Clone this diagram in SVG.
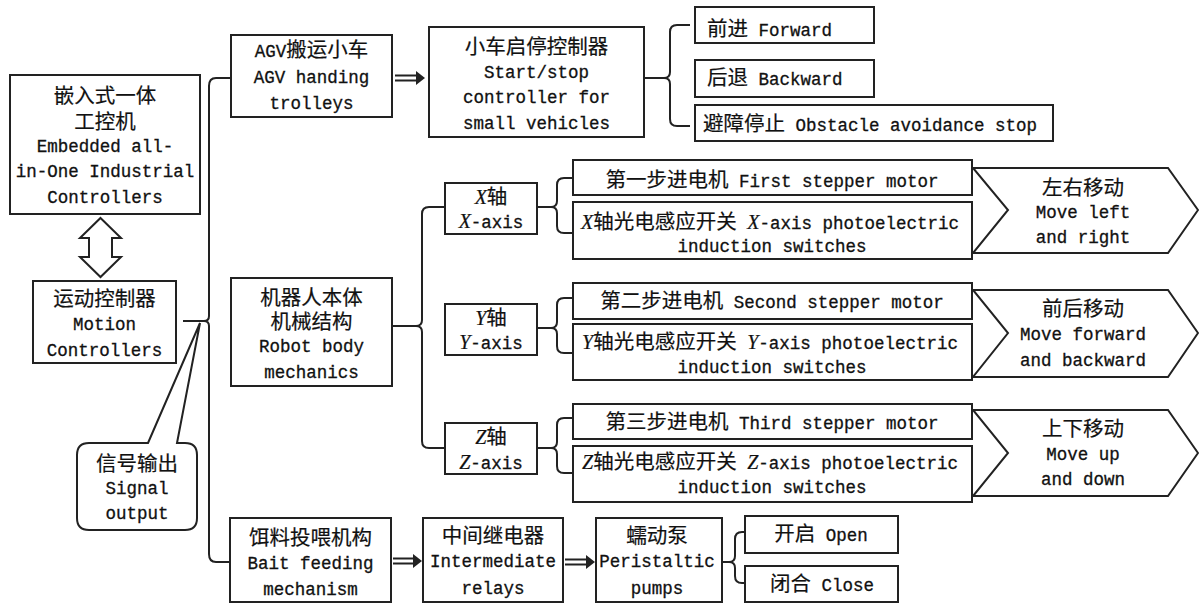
<svg xmlns="http://www.w3.org/2000/svg" width="1199" height="604" viewBox="0 0 1199 604">
<style>
.box{fill:#fff;stroke:#222;stroke-width:2}
.ln{fill:none;stroke:#222;stroke-width:2}
text{font-family:"Liberation Mono","Noto Sans CJK SC",monospace;font-size:17.5px;fill:#111;stroke:#111;stroke-width:0.3px;text-anchor:middle}
.s{text-anchor:start}
.c{font-size:20.5px;stroke-width:0.2px}
.i{font-family:"Liberation Serif",serif;font-style:italic;font-size:20px;stroke-width:0.2px}
</style>
<rect width="1199" height="604" fill="#fff"/>
<g id="connectors">
<path class="ln" d="M231,78 L216,78 Q209,78 209,86 L209,316 Q209,321 204,321 M204,321 Q209,321 209,326 L209,554 Q209,562 216,562 L230,562"/>
<path class="ln" d="M183,321 L204,321"/>
<path class="ln" d="M690,25 L677,25 Q670,25 670,32 L670,72 Q670,78 664,78 L644,78 M664,78 Q670,78 670,84 L670,119 Q670,126 677,126 L690,126"/>
<path class="ln" d="M445,207 L429,207 Q422,207 422,214 L422,320 Q422,326 416,326 L393,326 M416,326 Q422,326 422,332 L422,441 Q422,448 429,448 L445,448"/>
<path class="ln" d="M573,178 L564,178 Q557,178 557,185 L557,201 Q557,207 551,207 L537,207 M551,207 Q557,207 557,213 L557,226 Q557,233 564,233 L573,233"/>
<path class="ln" d="M573,298 L564,298 Q557,298 557,305 L557,322 Q557,328 551,328 L537,328 M551,328 Q557,328 557,334 L557,346 Q557,353 564,353 L573,353"/>
<path class="ln" d="M573,418 L564,418 Q557,418 557,425 L557,442 Q557,448 551,448 L537,448 M551,448 Q557,448 557,454 L557,466 Q557,473 564,473 L573,473"/>
<path class="ln" d="M745,532 L742,532 Q735,532 735,539 L735,556 Q735,562 729,562 L722,562 M729,562 Q735,562 735,568 L735,576 Q735,583 742,583 L745,583"/>
<g id="dbl1"><path class="ln" d="M395,75.5 H419 M395,80.5 H419"/><path d="M416,71 L425,78 L416,85 Z" fill="#222"/></g>
<g id="dbl2"><path class="ln" d="M393,558.5 H416 M393,563.5 H416"/><path d="M413,554 L422,561 L413,568 Z" fill="#222"/></g>
<g id="dbl3"><path class="ln" d="M565,559.5 H589 M565,564.5 H589"/><path d="M586,555 L595,562 L586,569 Z" fill="#222"/></g>
<path id="bidir" class="ln" d="M100.5,218 L121,238 L112,238 L112,257 L121,257 L100.5,277 L80,257 L89,257 L89,238 L80,238 Z"/>
</g>
<g id="embedded">
<rect class="box" x="10" y="75" width="190" height="139"/>
<text x="105" y="103" class="c">嵌入式一体</text>
<text x="105" y="129" class="c">工控机</text>
<text x="105" y="152">Embedded all-</text>
<text x="105" y="177">in-One Industrial</text>
<text x="105" y="203">Controllers</text>
</g>
<g id="motion">
<rect class="box" x="33" y="281" width="143" height="82"/>
<text x="104.5" y="306" class="c">运动控制器</text>
<text x="104.5" y="330">Motion</text>
<text x="104.5" y="356">Controllers</text>
</g>
<g id="signal">
<path class="ln" style="fill:#fff" d="M148,443 L200,323 L177,443 L185,443 Q197,443 197,455 L197,518 Q197,530 185,530 L89,530 Q77,530 77,518 L77,455 Q77,443 89,443 Z"/>
<text x="137" y="471" class="c">信号输出</text>
<text x="137" y="494">Signal</text>
<text x="137" y="519">output</text>
</g>
<g id="agv">
<rect class="box" x="231" y="35" width="161" height="82"/>
<text x="311.5" y="57">AGV<tspan class="c">搬运小车</tspan></text>
<text x="311.5" y="83">AGV handing</text>
<text x="311.5" y="109">trolleys</text>
</g>
<g id="robot">
<rect class="box" x="231" y="278" width="161" height="108"/>
<text x="311.5" y="305" class="c">机器人本体</text>
<text x="311.5" y="329" class="c">机械结构</text>
<text x="311.5" y="352">Robot body</text>
<text x="311.5" y="378">mechanics</text>
</g>
<g id="bait">
<rect class="box" x="230" y="518" width="161" height="84"/>
<text x="310.5" y="545" class="c">饵料投喂机构</text>
<text x="310.5" y="569">Bait feeding</text>
<text x="310.5" y="595">mechanism</text>
</g>
<g id="startstop">
<rect class="box" x="429" y="27" width="215" height="110"/>
<text x="536.5" y="54" class="c">小车启停控制器</text>
<text x="536.5" y="78">Start/stop</text>
<text x="536.5" y="103">controller for</text>
<text x="536.5" y="129">small vehicles</text>
</g>
<g id="forward">
<rect class="box" x="695" y="7" width="179" height="36"/>
<text x="707" y="36" class="s"><tspan class="c">前进</tspan> Forward</text>
</g>
<g id="backward">
<rect class="box" x="695" y="60" width="179" height="37"/>
<text x="707" y="85" class="s"><tspan class="c">后退</tspan> Backward</text>
</g>
<g id="obstacle">
<rect class="box" x="695" y="105" width="358" height="36"/>
<text x="703" y="131" class="s"><tspan class="c">避障停止</tspan> Obstacle avoidance stop</text>
</g>
<g id="xaxis">
<rect class="box" x="445" y="183" width="92" height="51"/>
<text x="491" y="204"><tspan class="i">X</tspan><tspan class="c">轴</tspan></text>
<text x="491" y="228"><tspan class="i">X</tspan>-axis</text>
</g>
<g id="yaxis">
<rect class="box" x="445" y="304" width="92" height="51"/>
<text x="491" y="325"><tspan class="i">Y</tspan><tspan class="c">轴</tspan></text>
<text x="491" y="349"><tspan class="i">Y</tspan>-axis</text>
</g>
<g id="zaxis">
<rect class="box" x="445" y="423" width="92" height="51"/>
<text x="491" y="444"><tspan class="i">Z</tspan><tspan class="c">轴</tspan></text>
<text x="491" y="469"><tspan class="i">Z</tspan>-axis</text>
</g>
<g id="motor1">
<rect class="box" x="573" y="160" width="399" height="35"/>
<text x="772" y="187"><tspan class="c">第一步进电机</tspan> First stepper motor</text>
</g>
<g id="xswitch">
<rect class="box" x="573" y="202" width="399" height="57"/>
<text x="770" y="229"><tspan class="i">X</tspan><tspan class="c">轴光电感应开关</tspan> <tspan class="i">X</tspan>-axis photoelectric</text>
<text x="772" y="252">induction switches</text>
</g>
<g id="motor2">
<rect class="box" x="573" y="283" width="399" height="36"/>
<text x="772" y="308"><tspan class="c">第二步进电机</tspan> Second stepper motor</text>
</g>
<g id="yswitch">
<rect class="box" x="573" y="324" width="399" height="56"/>
<text x="770" y="349"><tspan class="i">Y</tspan><tspan class="c">轴光电感应开关</tspan> <tspan class="i">Y</tspan>-axis photoelectric</text>
<text x="772" y="373">induction switches</text>
</g>
<g id="motor3">
<rect class="box" x="573" y="404" width="399" height="35"/>
<text x="772" y="429"><tspan class="c">第三步进电机</tspan> Third stepper motor</text>
</g>
<g id="zswitch">
<rect class="box" x="573" y="446" width="399" height="56"/>
<text x="770" y="469"><tspan class="i">Z</tspan><tspan class="c">轴光电感应开关</tspan> <tspan class="i">Z</tspan>-axis photoelectric</text>
<text x="772" y="493">induction switches</text>
</g>
<g id="leftright">
<polygon class="box" points="973,168 1168,168 1198,210 1168,253 973,253 1008,210"/>
<text x="1083" y="195" class="c">左右移动</text>
<text x="1083" y="218">Move left</text>
<text x="1083" y="243">and right</text>
</g>
<g id="forwardback">
<polygon class="box" points="973,290 1168,290 1198,333 1168,377 973,377 1008,333"/>
<text x="1083" y="316" class="c">前后移动</text>
<text x="1083" y="340">Move forward</text>
<text x="1083" y="366">and backward</text>
</g>
<g id="updown">
<polygon class="box" points="973,410 1168,410 1198,453 1168,496 973,496 1008,453"/>
<text x="1083" y="436" class="c">上下移动</text>
<text x="1083" y="460">Move up</text>
<text x="1083" y="485">and down</text>
</g>
<g id="relay">
<rect class="box" x="423" y="518" width="140" height="84"/>
<text x="493" y="543" class="c">中间继电器</text>
<text x="493" y="567">Intermediate</text>
<text x="493" y="594">relays</text>
</g>
<g id="pump">
<rect class="box" x="596" y="518" width="126" height="84"/>
<text x="657" y="543" class="c">蠕动泵</text>
<text x="657" y="567">Peristaltic</text>
<text x="657" y="594">pumps</text>
</g>
<g id="open">
<rect class="box" x="745" y="516" width="153" height="37"/>
<text x="821" y="541"><tspan class="c">开启</tspan> Open</text>
</g>
<g id="close">
<rect class="box" x="745" y="566" width="153" height="36"/>
<text x="822" y="591"><tspan class="c">闭合</tspan> Close</text>
</g>
</svg>
